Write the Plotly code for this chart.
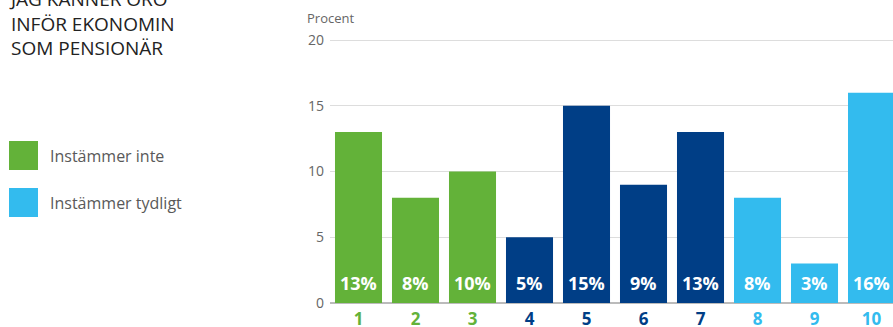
import plotly.graph_objects as go

categories = [1, 2, 3, 4, 5, 6, 7, 8, 9, 10]
values = [13, 8, 10, 5, 15, 9, 13, 8, 3, 16]
groups = ["inte", "inte", "inte", "neutral", "neutral", "neutral", "neutral", "tydligt", "tydligt", "tydligt"]
y_ticks = [0, 5, 10, 15, 20]
title_lines = ["JAG KÄNNER ORO", "INFÖR EKONOMIN", "SOM PENSIONÄR"]
legend_names = ["Instämmer inte", "Instämmer tydligt"]

colors = {"inte": "#63B239", "neutral": "#003E86", "tydligt": "#33BBEE"}

W, H = 893, 327
L, R, T, B = 330, 0, 39, 24

fig = go.Figure()
for g in ["inte", "neutral", "tydligt"]:
    xs = [c for c, gg in zip(categories, groups) if gg == g]
    ys = [v for v, gg in zip(values, groups) if gg == g]
    fig.add_trace(go.Bar(x=xs, y=ys, marker=dict(color=colors[g], line=dict(width=0)),
                         showlegend=False, hoverinfo="skip"))

# percentage labels inside bars
for c, v in zip(categories, values):
    fig.add_annotation(x=c, y=1.55, xref="x", yref="y", text=f"<b>{v}%</b>", showarrow=False,
                       font=dict(family="Open Sans", size=18, color="white"))

ticktext = [f"<b><span style='color:{colors[g]}'>{c}</span></b>" for c, g in zip(categories, groups)]

plot_h = H - T - B
def py(pix):
    return (H - B - pix) / plot_h
def px(pix):
    return (pix - L) / (W - L - R)

# title (single block, top line cut by the top edge as in the reference)
fig.add_annotation(x=px(7), y=py(-16), xref="paper", yref="paper", text="<br>".join(title_lines),
                   showarrow=False, xanchor="left", yanchor="top", align="left",
                   font=dict(family="Open Sans", size=19, color="#222222"))

# Procent label
fig.add_annotation(x=px(305), y=py(18), xref="paper", yref="paper", text="Procent",
                   showarrow=False, xanchor="left", yanchor="middle",
                   font=dict(family="Open Sans", size=13, color="#666666"))

# custom legend
leg_colors = [colors["inte"], colors["tydligt"]]
leg_y = [141, 188]
for name, col, y0 in zip(legend_names, leg_colors, leg_y):
    fig.add_shape(type="rect", xref="paper", yref="paper", x0=px(9), x1=px(38),
                  y0=py(y0 + 29), y1=py(y0), fillcolor=col, line=dict(width=0))
    fig.add_annotation(x=px(48), y=py(y0 + 15), xref="paper", yref="paper", text=name,
                       showarrow=False, xanchor="left", yanchor="middle",
                       font=dict(family="Open Sans", size=16, color="#595959"))

fig.update_layout(
    width=W, height=H, margin=dict(l=L, r=R, t=T, b=B, autoexpand=False),
    paper_bgcolor="white", plot_bgcolor="white", barmode="overlay", bargap=0.175,
    xaxis=dict(range=[0.5, 10.377], tickvals=categories, ticktext=ticktext, showgrid=False,
               zeroline=False, showline=False, ticks="", fixedrange=True, ticklabelstandoff=4,
               tickfont=dict(family="Open Sans", size=17)),
    yaxis=dict(range=[0, 20.08], tickvals=y_ticks, showgrid=True, gridcolor="#DDDDDD", gridwidth=1,
               zeroline=True, zerolinecolor="#BBBBBB", zerolinewidth=2, showline=False, ticks="",
               ticklabelstandoff=5,
               tickfont=dict(family="Open Sans", size=14, color="#666666"), fixedrange=True),
)

fig.write_html("out.html")
